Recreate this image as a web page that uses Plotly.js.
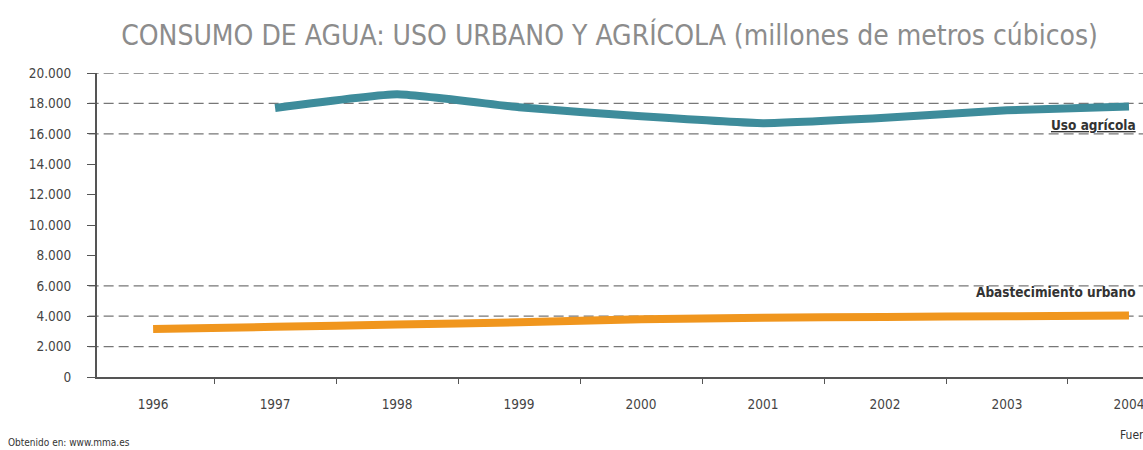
<!DOCTYPE html>
<html>
<head>
<meta charset="utf-8">
<script src="https://cdn.plot.ly/plotly-3.0.1.min.js"></script>
<style>
  html, body { margin: 0; padding: 0; background: #fff; }
  #chart { width: 1143px; height: 450px; }
</style>
</head>
<body>
<div id="chart"></div>
<script>
'use strict';

// years on the x axis
const years = ['1996', '1997', '1998', '1999', '2000', '2001', '2002', '2003', '2004'];

// millones de m3
const usoAgricola = [null, 17700, 18600, 17750, 17150, 16700, 17050, 17550, 17800];
const abastecimientoUrbano = [3150, 3300, 3450, 3600, 3800, 3900, 3950, 4000, 4050];

// y ticks, and the levels that get a dashed reference line
const yTicks = [0, 2000, 4000, 6000, 8000, 10000, 12000, 14000, 16000, 18000, 20000];
const gridLevels = [2000, 4000, 6000, 16000, 18000, 20000];

const condensed = '"DejaVu Sans Condensed", "DejaVu Sans", sans-serif';
const labelFont = {family: condensed, size: 13.5, color: '#444'};

const traces = [
  {
    x: years,
    y: usoAgricola,
    type: 'scatter',
    mode: 'lines',
    name: 'Uso agrícola',
    line: {color: '#3e8c9b', width: 8, shape: 'spline', smoothing: 0.4},
    connectgaps: false,
    hoverinfo: 'skip'
  },
  {
    x: years,
    y: abastecimientoUrbano,
    type: 'scatter',
    mode: 'lines',
    name: 'Abastecimiento urbano',
    line: {color: '#f0961e', width: 8, shape: 'spline', smoothing: 0.4},
    hoverinfo: 'skip'
  }
];

const shapes = gridLevels.map(v => ({
  type: 'line',
  xref: 'paper',
  yref: 'y',
  x0: -0.008,
  x1: 1,
  y0: v,
  y1: v,
  layer: 'below',
  line: {color: '#777', width: 1.3, dash: '10px,5px'}
}));

const layout = {
  width: 1143,
  height: 450,
  margin: {l: 97, r: 0, t: 73, b: 73},
  paper_bgcolor: '#fff',
  plot_bgcolor: '#fff',
  showlegend: false,
  separators: ',.',
  title: {
    text: 'CONSUMO DE AGUA: USO URBANO Y AGRÍCOLA (millones de metros cúbicos)',
    font: {family: condensed, size: 28, color: '#8c8c8c'},
    xref: 'paper',
    x: 0.49,
    xanchor: 'center',
    yref: 'container',
    y: 0.922,
    yanchor: 'middle'
  },
  xaxis: {
    type: 'category',
    range: [-0.46, 8.115],
    showgrid: false,
    zeroline: false,
    showline: true,
    linecolor: '#555',
    linewidth: 2,
    ticks: 'outside',
    tickson: 'boundaries',
    ticklen: 5,
    tickcolor: '#555',
    ticklabelstandoff: 14,
    tickfont: labelFont,
    fixedrange: true
  },
  yaxis: {
    range: [0, 20000],
    tickvals: yTicks,
    tickformat: ',d',
    showgrid: false,
    zeroline: false,
    showline: true,
    linecolor: '#555',
    linewidth: 2,
    ticks: 'outside',
    ticklen: 8,
    tickcolor: '#555',
    ticklabelstandoff: 13,
    tickfont: labelFont,
    fixedrange: true
  },
  shapes: shapes,
  annotations: [
    {
      text: '<b><u>Uso agrícola</u></b>',
      xref: 'paper', yref: 'y',
      x: 0.995, y: 16550,
      xanchor: 'right', yanchor: 'middle',
      showarrow: false,
      font: {family: condensed, size: 13.5, color: '#333'}
    },
    {
      text: '<b>Abastecimiento urbano</b>',
      xref: 'paper', yref: 'y',
      x: 0.995, y: 5600,
      xanchor: 'right', yanchor: 'middle',
      showarrow: false,
      font: {family: condensed, size: 13.5, color: '#333'}
    },
    {
      text: 'Obtenido en: www.mma.es',
      xref: 'paper', yref: 'paper',
      x: -0.087, y: -0.215,
      xanchor: 'left', yanchor: 'middle',
      showarrow: false,
      font: {family: condensed, size: 10, color: '#333'}
    },
    {
      text: 'Fuente:',
      xref: 'paper', yref: 'paper',
      x: 0.976, y: -0.19,
      xanchor: 'left', yanchor: 'middle',
      showarrow: false,
      font: {family: condensed, size: 12, color: '#333'}
    }
  ]
};

Plotly.newPlot('chart', traces, layout, {displayModeBar: false, staticPlot: true});
</script>
</body>
</html>
